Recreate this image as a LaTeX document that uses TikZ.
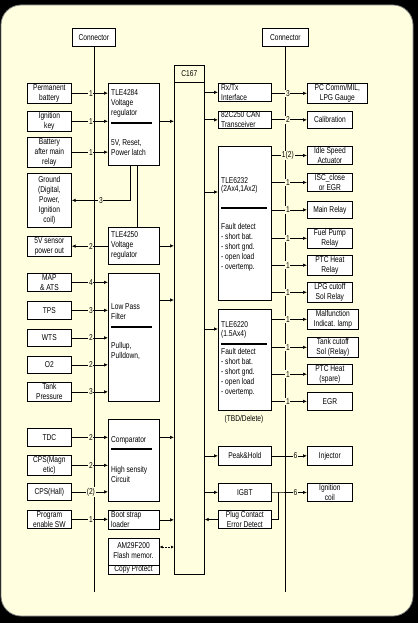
\documentclass[tikz,border=0pt]{standalone}
\usepackage{fontspec}
\setmainfont{Liberation Sans}[FakeStretch=0.78]
\usetikzlibrary{arrows.meta}
\definecolor{cream}{RGB}{255,255,224}
\newcommand\mkbox[7][]{\node[box,anchor=north west,minimum width={(#5-#3)*1pt},minimum height={(#6-#4)*1pt},#1] (#2) at (#3,#4) {#7};}
\newcommand\mklbox[7][]{\node[box,anchor=north west,minimum width={(#5-#3)*1pt},minimum height={(#6-#4)*1pt},#1] (#2) at (#3,#4) {};\node[txt] (#2t) at ({#3+3},{(#4+#6)/2}) {#7};}
\begin{document}
\begin{tikzpicture}[x=1pt,y=-1pt,font=\fontsize{8.5}{10}\selectfont,
  box/.style={draw,line width=0.7pt,fill=white,inner sep=1pt,align=center},
  txt/.style={anchor=west,inner sep=0pt,align=left},
  lbl/.style={fill=cream,inner sep=0.8pt},
  sepl/.style={line width=1.6pt},
  ln/.style={line width=0.7pt},
  ar/.style={ln,-{Latex[length=4pt,width=3.5pt]}},
  ra/.style={ln,{Latex[length=4pt,width=3.5pt]}-}]
% background
\fill[black] (0,0) rectangle (418,623);
\fill[cream,draw=gray,line width=0.8pt,rounded corners=20pt] (1,5) rectangle (413,616);
\useasboundingbox (0,0) rectangle (418,623);
% helper coordinates
\coordinate (yA) at (0,592);
\coordinate (x130) at (130,0);
\coordinate (x137) at (137,0);
\coordinate (x278) at (278,0);
\coordinate (y300) at (0,300);
\coordinate (y547) at (0,547);
\coordinate (y192) at (0,192);
\coordinate (y329) at (0,329);
% connectors
\mkbox{conL}{72}{28}{115}{46}{Connector}
\mkbox{conR}{262}{28}{308}{46}{Connector}
\draw[ln] (conL.south) -- (conL.south |- yA);
\draw[ln] (conR.south) -- (conR.south |- yA);
% C167
\mkbox[fill=cream]{c167}{174}{65}{204}{574}{}
\draw[ln] ([yshift=-17pt]c167.north west) -- ([yshift=-17pt]c167.north east);
\node[inner sep=0pt] (c167l) at ([yshift=-8.5pt]c167.north) {C167};
% left sources
\mkbox{pb}{27}{83}{71}{101}{Permanent\\battery}
\mkbox{ik}{27}{111}{71}{128}{Ignition\\key}
\mkbox{bm}{27}{137}{71}{165}{Battery\\after main\\relay}
\mkbox{gnd}{27}{173}{71}{227}{Ground\\(Digital,\\Power,\\Ignition\\coil)}
\mkbox{sp}{27}{236}{71}{255}{5V sensor\\power out}
\mkbox{map}{27}{273}{71}{291}{MAP\\\& ATS}
\mkbox{tps}{27}{301}{71}{319}{TPS}
\mkbox{wts}{27}{329}{71}{346}{WTS}
\mkbox{o2}{27}{356}{71}{373}{O2}
\mkbox{tank}{27}{382}{71}{401}{Tank\\Pressure}
\mkbox{tdc}{27}{428}{71}{446}{TDC}
\mkbox{cpsm}{27}{455}{71}{474}{CPS(Magn\\etic)}
\mkbox{cpsh}{27}{483}{71}{500}{CPS(Hall)}
\mkbox{pe}{27}{510}{71}{528}{Program\\enable SW}
% processing boxes
\mkbox{t84}{108}{83}{159}{165}{}
\mkbox{t50}{108}{227}{159}{264}{}
\mkbox{lpf}{108}{273}{159}{401}{}
\mkbox{cmp}{108}{419}{159}{501}{}
\mklbox{boot}{108}{510}{159}{529}{Boot strap\\loader}
\mkbox{am}{108}{538}{159}{574}{}
\node[txt] (t84a) at (111,103) {TLE4284\\Voltage\\regulator};
\node[txt] (t84b) at (111,148) {5V, Reset,\\Power latch};
\node[txt] (t50a) at (111,245) {TLE4250\\Voltage\\regulator};
\node[txt] (lpfa) at (111,312) {Low Pass\\Filter};
\node[txt] (lpfb) at (111,350.5) {Pullup,\\Pulldown,};
\node[txt] (cmpa) at (111,440) {Comparator};
\node[txt] (cmpb) at (111,474) {High sensity\\Circuit};
\node[inner sep=0pt,align=center] (ama) at (133.5,550.5) {AM29F200\\Flash memor.};
\node[inner sep=0pt] (amb) at (133.5,569.5) {Copy Protect};
\draw[sepl] (111,123) -- (152,123);
\draw[sepl] (111,327) -- (152,327);
\draw[sepl] (111,449) -- (152,449);
\draw[ln] (108,565) -- (159,565);
% right internal boxes
\mklbox{rx}{218}{83}{271}{101}{Rx/Tx\\Interface}
\mklbox{can}{218}{111}{271}{128}{82C250 CAN\\Transceiver}
\mkbox{t32}{218}{146}{271}{300}{}
\mkbox{t20}{218}{309}{271}{410}{}
\mkbox{ph}{218}{446}{271}{465}{Peak\&Hold}
\mkbox{igbt}{218}{483}{271}{501}{IGBT}
\mkbox{plug}{218}{510}{271}{528}{Plug Contact\\Error Detect}
\node[txt,font=\fontsize{8.5}{8}\selectfont] (t32a) at (221,185) {TLE6232\\(2Ax4,1Ax2)};
\node[txt] (t32b) at (221,247) {Fault detect\\- short bat.\\- short gnd.\\- open load\\- overtemp.};
\node[txt,font=\fontsize{8.5}{9}\selectfont] (t20a) at (221,329.5) {TLE6220\\(1.5Ax4)};
\node[txt] (t20b) at (221,372.5) {Fault detect\\- short bat.\\- short gnd.\\- open load\\- overtemp.};
\draw[sepl] (221,208) -- (267,208);
\draw[sepl] (221,344) -- (267,344);
\node[inner sep=0pt] (tbd) at (244,419) {(TBD/Delete)};
% right external boxes
\mkbox{pc}{307}{83}{367}{101}{PC Comm/MIL,\\LPG Gauge}
\mkbox{cal}{307}{111}{352}{128}{Calibration}
\mkbox{isa}{307}{146}{352}{164}{Idle Speed\\Actuator}
\mkbox{isc}{307}{173}{352}{191}{ISC\_close\\or EGR}
\mkbox{mr}{307}{201}{352}{218}{Main Relay}
\mkbox{fp}{307}{228}{352}{246}{Fuel Pump\\Relay}
\mkbox{ptc}{307}{255}{352}{273}{PTC Heat\\Relay}
\mkbox{lpg}{307}{282}{352}{300}{LPG cutoff\\Sol Relay}
\mkbox{mil}{307}{309}{358}{328}{Malfunction\\Indicat. lamp}
\mkbox{tco}{307}{337}{358}{355}{Tank cutoff\\Sol (Relay)}
\mkbox{ptcs}{307}{364}{352}{382}{PTC Heat\\(spare)}
\mkbox{egr}{307}{392}{352}{410}{EGR}
\mkbox{inj}{307}{446}{352}{465}{Injector}
\mkbox{ign}{307}{483}{352}{501}{Ignition\\coil}
% left inputs
\foreach \s/\t/\n in {pb/t84/1, ik/t84/1, bm/t84/1, map/lpf/4, tps/lpf/3, wts/lpf/2, o2/lpf/2, tank/lpf/3, tdc/cmp/2, cpsm/cmp/2, cpsh/cmp/(2), pe/boot/1}{
  \draw[ar] (\s.east) -- (\s.east -| \t.west);
  \node[lbl] (l\s) at ([xshift=-3pt]\s.east -| conL.south) {\n};
}
\draw[ar] (t84.south -| x130) |- (gnd.east);
\node[lbl] (lgnd) at ([xshift=7pt]gnd.east -| conL.south) {3};
\draw[ln] (t84.south -| x137) -- (t50.north -| x137);
\draw[ra] (sp.east) -- (sp.east -| t50.west);
\node[lbl] (lsp) at ([xshift=-3pt]sp.east -| conL.south) {2};
% into C167
\draw[ar] (t84.east |- ik.east) -- (c167.west |- ik.east);
\draw[ar] (t50.east) -- (t50.east -| c167.west);
\draw[ar] (lpf.east |- y300) -- (c167.west |- y300);
\draw[ar] (cmp.east |- tdc.east) -- (c167.west |- tdc.east);
\draw[ar] (boot.east) -- (boot.east -| c167.west);
\draw[ln,dash pattern=on 1.5pt off 1.5pt,{Latex[length=3pt,width=3pt]}-{Latex[length=3pt,width=3pt]}] (am.east |- y547) -- (c167.west |- y547);
% out of C167
\draw[ar] (c167.east |- rx.west) -- (rx.west);
\draw[ar] (c167.east |- can.west) -- (can.west);
\draw[ar] (c167.east |- y192) -- (t32.west |- y192);
\draw[ar] (c167.east |- y329) -- (t20.west |- y329);
\draw[ar] (c167.east |- ph.west) -- (ph.west);
\draw[ar] (c167.east |- igbt.west) -- (igbt.west);
\draw[ra] (c167.east |- plug.west) -- (plug.west);
% right outputs
\foreach \s/\t/\n in {rx/pc/3, can/cal/2, t32/isa/1(2), t32/isc/1, t32/mr/1, t32/fp/1, t32/ptc/1, t32/lpg/1, t20/mil/1, t20/tco/1, t20/ptcs/1, t20/egr/1}{
  \draw[ar] (\s.east |- \t.west) -- (\t.west);
  \node[lbl] (r\t) at ([xshift=2.5pt]\t.west -| conR.south) {\n};
}
\draw[ar] (ph.east) -- (inj.west);
\node[lbl] (rinj) at ([xshift=10pt]inj.west -| conR.south) {6};
\draw[ar] (igbt.east) -- (ign.west);
\node[lbl] (rign) at ([xshift=10pt]ign.west -| conR.south) {6};
\draw[ln] (igbt.east -| x278) |- (plug.east);
\end{tikzpicture}
\end{document}
